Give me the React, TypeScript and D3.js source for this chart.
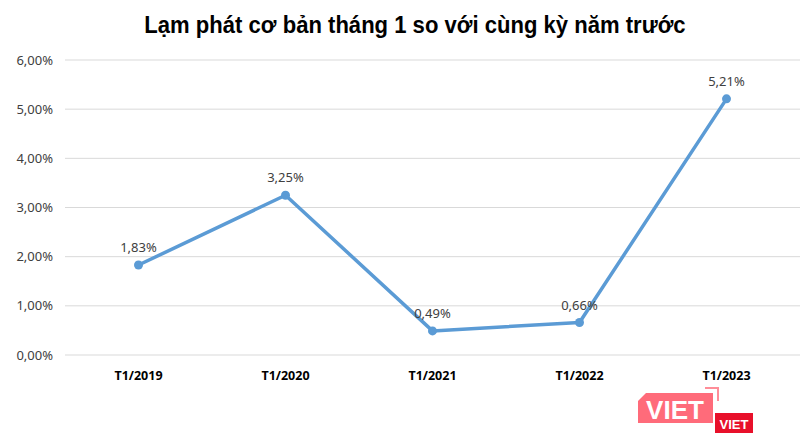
import { useEffect, useRef } from 'react';
import * as d3 from 'd3';

const categories = ['T1/2019', 'T1/2020', 'T1/2021', 'T1/2022', 'T1/2023'];
const values = [1.83, 3.25, 0.49, 0.66, 5.21];
const yTicks = [0, 1, 2, 3, 4, 5, 6];
const title = 'Lạm phát cơ bản tháng 1 so với cùng kỳ năm trước';

const W = 810;
const H = 443;
const LINE = '#5b9bd5';
const FONT = 'Noto Sans, Open Sans, sans-serif';
const fmt = (v: number) => v.toFixed(2).replace('.', ',') + '%';

export default function App() {
  const svgRef = useRef<SVGSVGElement>(null);

  useEffect(() => {
    const svg = d3.select(svgRef.current);
    svg.selectAll('*').remove();

    const margin = { top: 60, right: 10, bottom: 88, left: 65 };
    const innerW = W - margin.left - margin.right;
    const innerH = H - margin.top - margin.bottom;

    svg.append('rect').attr('width', W).attr('height', H).attr('fill', '#fff');

    // title, slightly condensed like the original
    svg.append('text')
      .attr('transform', `translate(${W / 2 + 10},33) scale(0.92,1)`)
      .attr('text-anchor', 'middle')
      .attr('font-family', 'Liberation Sans, Arial, sans-serif')
      .attr('font-weight', 'bold')
      .attr('font-size', 24)
      .attr('fill', '#000')
      .text(title);

    const g = svg.append('g').attr('transform', `translate(${margin.left},${margin.top})`);

    const x = d3.scalePoint<string>().domain(categories).range([0, innerW]).padding(0.5);
    const y = d3.scaleLinear().domain([0, 6]).range([innerH, 0]);

    // gridlines
    g.append('g')
      .selectAll('line')
      .data(yTicks)
      .join('line')
      .attr('x1', 0).attr('x2', innerW)
      .attr('y1', (d) => y(d)).attr('y2', (d) => y(d))
      .attr('stroke', '#d9d9d9')
      .attr('stroke-width', 1);

    // y tick labels
    g.append('g')
      .selectAll('text')
      .data(yTicks)
      .join('text')
      .attr('x', -12)
      .attr('y', (d) => y(d))
      .attr('dy', '0.35em')
      .attr('text-anchor', 'end')
      .attr('font-family', FONT)
      .attr('font-size', 13)
      .attr('fill', '#404040')
      .text((d) => fmt(d));

    // x labels
    g.append('g')
      .selectAll('text')
      .data(categories)
      .join('text')
      .attr('x', (d) => x(d)!)
      .attr('y', innerH + 25)
      .attr('text-anchor', 'middle')
      .attr('font-family', FONT)
      .attr('font-weight', 'bold')
      .attr('font-size', 12.5)
      .attr('fill', '#000')
      .text((d) => d);

    const pts = categories.map((c, i) => ({ c, v: values[i] }));

    const line = d3.line<{ c: string; v: number }>()
      .x((d) => x(d.c)!)
      .y((d) => y(d.v));

    g.append('path')
      .datum(pts)
      .attr('d', line)
      .attr('fill', 'none')
      .attr('stroke', LINE)
      .attr('stroke-width', 3.5)
      .attr('stroke-linejoin', 'round');

    g.append('g')
      .selectAll('circle')
      .data(pts)
      .join('circle')
      .attr('cx', (d) => x(d.c)!)
      .attr('cy', (d) => y(d.v))
      .attr('r', 4.5)
      .attr('fill', LINE);

    g.append('g')
      .selectAll('text')
      .data(pts)
      .join('text')
      .attr('x', (d) => x(d.c)!)
      .attr('y', (d) => y(d.v) - 13)
      .attr('text-anchor', 'middle')
      .attr('font-family', FONT)
      .attr('font-size', 13)
      .attr('fill', '#404040')
      .text((d) => fmt(d.v));

    // watermark logo
    const logo = svg.append('g');
    logo.append('path')
      .attr('d', 'M646,393 L713,393 L713,423 L638,423 L638,401 Z')
      .attr('fill', '#ff6b7a');
    logo.append('path')
      .attr('d', 'M705,388 L718,388 L718,401')
      .attr('fill', 'none')
      .attr('stroke', '#ff8d98')
      .attr('stroke-width', 2);
    logo.append('text')
      .attr('x', 675).attr('y', 419)
      .attr('text-anchor', 'middle')
      .attr('font-family', 'Liberation Sans, Arial, sans-serif')
      .attr('font-weight', 'bold')
      .attr('font-size', 26)
      .attr('fill', '#fff')
      .text('VIET');
    logo.append('rect')
      .attr('x', 715).attr('y', 413).attr('width', 38).attr('height', 20)
      .attr('fill', '#e8102a');
    logo.append('text')
      .attr('x', 734).attr('y', 429)
      .attr('text-anchor', 'middle')
      .attr('font-family', 'Liberation Sans, Arial, sans-serif')
      .attr('font-weight', 'bold')
      .attr('font-size', 13)
      .attr('fill', '#fff')
      .text('VIET');
  }, []);

  return (
    <div style={{ margin: -8 }}>
      <svg ref={svgRef} width={W} height={H} style={{ display: 'block' }} />
    </div>
  );
}
